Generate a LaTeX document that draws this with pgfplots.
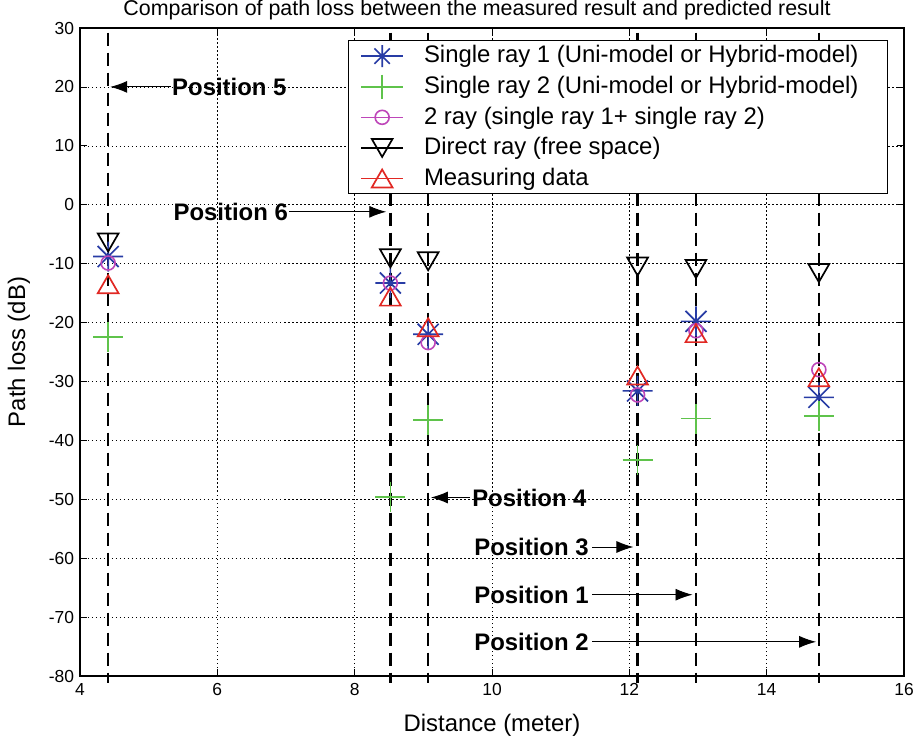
\documentclass[border=0pt]{standalone}
\usepackage{fontspec}
\setmainfont{Liberation Sans}
\usepackage{pgfplots}
\pgfplotsset{compat=1.18}
\usetikzlibrary{arrows.meta}

\definecolor{mblue}{RGB}{40,60,165}
\definecolor{mgreen}{RGB}{95,195,75}
\definecolor{mmag}{RGB}{190,70,185}
\definecolor{mred}{RGB}{225,40,35}

% MATLAB-like markers: 8-arm asterisk, triangles centred on their box
\pgfdeclareplotmark{ast8}{%
  \pgfpathmoveto{\pgfqpoint{-\pgfplotmarksize}{0pt}}\pgfpathlineto{\pgfqpoint{\pgfplotmarksize}{0pt}}%
  \pgfpathmoveto{\pgfqpoint{0pt}{-\pgfplotmarksize}}\pgfpathlineto{\pgfqpoint{0pt}{\pgfplotmarksize}}%
  \pgfpathmoveto{\pgfqpoint{-.7\pgfplotmarksize}{-.7\pgfplotmarksize}}\pgfpathlineto{\pgfqpoint{.7\pgfplotmarksize}{.7\pgfplotmarksize}}%
  \pgfpathmoveto{\pgfqpoint{-.7\pgfplotmarksize}{.7\pgfplotmarksize}}\pgfpathlineto{\pgfqpoint{.7\pgfplotmarksize}{-.7\pgfplotmarksize}}%
  \pgfusepathqstroke}
\pgfdeclareplotmark{tup}{%
  \pgfpathmoveto{\pgfqpoint{0pt}{.75\pgfplotmarksize}}%
  \pgfpathlineto{\pgfqpoint{-.866\pgfplotmarksize}{-.75\pgfplotmarksize}}%
  \pgfpathlineto{\pgfqpoint{.866\pgfplotmarksize}{-.75\pgfplotmarksize}}%
  \pgfpathclose\pgfusepathqstroke}
\pgfdeclareplotmark{tdown}{%
  \pgfpathmoveto{\pgfqpoint{0pt}{-.75\pgfplotmarksize}}%
  \pgfpathlineto{\pgfqpoint{-.866\pgfplotmarksize}{.75\pgfplotmarksize}}%
  \pgfpathlineto{\pgfqpoint{.866\pgfplotmarksize}{.75\pgfplotmarksize}}%
  \pgfpathclose\pgfusepathqstroke}

\begin{document}
\begin{tikzpicture}
\begin{axis}[
  scale only axis, width=824bp, height=648bp,
  xmin=4, xmax=16, ymin=-80, ymax=30,
  xtick={4,6,...,16}, ytick={-80,-70,...,30},
  clip=false,
  grid=major,
  grid style={black, line width=0.6bp, dash pattern=on 1.5bp off 2.5bp},
  tick align=inside, major tick length=7bp,
  tick style={black, line width=0.8bp},
  axis line style={line width=1.2bp},
  ticklabel style={font=\fontsize{17.5}{19}\selectfont},
  /pgf/number format/assume math mode=true,
  xticklabel style={yshift=-4bp},
  yticklabel style={xshift=-2.5bp},
  title={Comparison of path loss between the measured result and predicted result},
  title style={font=\fontsize{21.5}{23}\selectfont, at={(axis description cs:0.5,1)}, anchor=base, yshift=6.6bp, xshift=-15bp},
  xlabel={Distance (meter)}, ylabel={Path loss (dB)},
  every axis x label/.style={at={(axis description cs:0.5,-0.085)}, anchor=base, font=\fontsize{24}{28}\selectfont},
  every axis y label/.style={at={(axis description cs:-0.0667,0.5)}, anchor=base, rotate=90, font=\fontsize{24}{28}\selectfont},
  legend cell align=left,
  legend style={at={(axis description cs:0.325,0.981)}, anchor=north west,
    draw=black, line width=1bp, fill=white,
    font=\fontsize{24}{28}\selectfont,
    inner xsep=12bp, inner ysep=0bp, row sep=0bp,
    nodes={inner sep=0pt, text height=22bp, text depth=8.6bp},
    /tikz/every odd column/.append style={column sep=20bp}},
  legend image code/.code={%
    \draw[#1] (0bp,0bp) -- (42bp,0bp);
    \draw[#1] plot coordinates {(21bp,0bp)};},
]
% x positions: P5, P6, P4, P3, P1, P2
\addplot[only marks, mblue, line width=1.7bp, mark=ast8, mark size=15bp,
  legend image post style={mark size=11bp}]
  coordinates {(4.41,-8.8) (8.52,-13.3) (9.07,-22.0) (12.12,-31.6) (12.97,-19.8) (14.76,-32.7)};
\addplot[only marks, mgreen, line width=1.7bp, mark=+, mark size=15bp,
  legend image post style={mark size=12bp}]
  coordinates {(4.41,-22.5) (8.52,-49.6) (9.07,-36.6) (12.12,-43.3) (12.97,-36.3) (14.76,-35.9)};
\addplot[only marks, mmag, line width=1.6bp, mark=o, mark size=7bp]
  coordinates {(4.41,-9.9) (8.52,-13.3) (9.07,-23.4) (12.12,-32.3) (12.97,-21.4) (14.76,-28.0)};
\addplot[only marks, black, line width=1.7bp, mark=tdown, mark size=12bp]
  coordinates {(4.41,-6.4) (8.52,-9.1) (9.07,-9.6) (12.12,-10.5) (12.97,-10.9) (14.76,-11.6)};
\addplot[only marks, mred, line width=1.7bp, mark=tup, mark size=12bp]
  coordinates {(4.41,-13.5) (8.52,-15.6) (9.07,-20.8) (12.12,-29.0) (12.97,-21.8) (14.76,-29.3)};
\legend{Single ray 1 (Uni-model or Hybrid-model)\hspace*{17bp},
        Single ray 2 (Uni-model or Hybrid-model),
        2 ray (single ray 1+ single ray 2),
        Direct ray (free space),
        Measuring data}

% dashed position lines
\addplot[forget plot, black, line width=2.6bp, dash pattern=on 13bp off 7bp] coordinates {(4.41,29.2) (4.41,-81.2)};
\addplot[forget plot, black, line width=2.6bp, dash pattern=on 13bp off 7bp] coordinates {(8.52,29.2) (8.52,-81.2)};
\addplot[forget plot, black, line width=2.6bp, dash pattern=on 13bp off 7bp] coordinates {(9.07,29.2) (9.07,-81.2)};
\addplot[forget plot, black, line width=2.6bp, dash pattern=on 13bp off 7bp] coordinates {(12.12,29.2) (12.12,-81.2)};
\addplot[forget plot, black, line width=2.6bp, dash pattern=on 13bp off 7bp] coordinates {(12.97,29.2) (12.97,-81.2)};
\addplot[forget plot, black, line width=2.6bp, dash pattern=on 13bp off 7bp] coordinates {(14.76,29.2) (14.76,-81.2)};

% position labels
\tikzset{plab/.style={font=\bfseries\fontsize{24}{28}\selectfont, inner sep=0pt},
         parr/.style={-{Latex[length=17bp,width=12bp]}, line width=0.9bp, black}}
\node[plab, anchor=west] at (axis cs:5.34,20) {Position 5};
\draw[parr] (axis cs:5.32,20) -- (axis cs:4.44,20);
\node[plab, anchor=east] at (axis cs:7.03,-1.2) {Position 6};
\draw[parr] (axis cs:7.05,-1.2) -- (axis cs:8.46,-1.2);
\node[plab, anchor=west] at (axis cs:9.71,-49.7) {Position 4};
\draw[parr] (axis cs:9.68,-49.7) -- (axis cs:9.11,-49.7);
\node[plab, anchor=west] at (axis cs:9.74,-58.1) {Position 3};
\draw[parr] (axis cs:11.46,-58.1) -- (axis cs:12.06,-58.1);
\node[plab, anchor=west] at (axis cs:9.74,-66.2) {Position 1};
\draw[parr] (axis cs:11.46,-66.2) -- (axis cs:12.92,-66.2);
\node[plab, anchor=west] at (axis cs:9.74,-74.2) {Position 2};
\draw[parr] (axis cs:11.46,-74.2) -- (axis cs:14.72,-74.2);
\end{axis}
\pgfresetboundingbox
\path[use as bounding box] (-80bp,-62bp) rectangle (837bp,676bp);
\end{tikzpicture}
\end{document}
